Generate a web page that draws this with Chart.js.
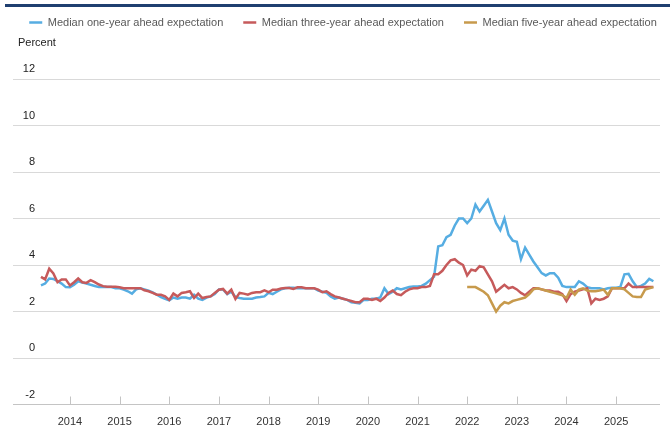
<!DOCTYPE html>
<html>
<head>
<meta charset="utf-8">
<script src="https://cdn.jsdelivr.net/npm/chart.js@4.4.1/dist/chart.umd.min.js"></script>
<style>
    html, body { margin: 0; padding: 0; background: #ffffff; }
    #chartWrap { width: 670px; height: 428px; position: relative; }
</style>
</head>
<body>
<div id="chartWrap"><canvas id="expectationsChart"></canvas></div>
<script>
// Survey medians, one value per month
const firstMonth = '2013-06';
const fiveYearFirstMonth = '2022-01';

const oneYear = [
    3.12, 3.2, 3.42, 3.4, 3.3, 3.2, 3.05,
    3.04, 3.15, 3.3, 3.25, 3.2, 3.15, 3.1, 3.05, 3.05, 3.05, 3.05, 3.0,
    3.0, 2.94, 2.87, 2.77, 2.95, 3.0, 2.95, 2.9, 2.82, 2.72, 2.62, 2.55,
    2.48, 2.6, 2.55, 2.6, 2.6, 2.55, 2.72, 2.55, 2.5, 2.6, 2.65, 2.75,
    2.95, 2.95, 2.75, 2.85, 2.62, 2.58, 2.55, 2.55, 2.55, 2.6, 2.62, 2.65,
    2.8, 2.75, 2.85, 2.95, 3.0, 3.02, 3.02, 3.0, 3.0, 3.0, 3.0, 3.0,
    2.9, 2.85, 2.8, 2.65, 2.55, 2.6, 2.55, 2.5, 2.4, 2.38, 2.35, 2.5,
    2.5, 2.55, 2.55, 2.6, 3.0, 2.75, 2.85, 3.0, 2.95, 3.0, 3.05, 3.08,
    3.08, 3.1, 3.2, 3.35, 3.5, 4.8, 4.85, 5.2, 5.3, 5.7, 6.0, 6.0,
    5.8, 6.0, 6.6, 6.3, 6.55, 6.8, 6.3, 5.8, 5.5, 6.0, 5.3, 5.05,
    5.0, 4.25, 4.75, 4.45, 4.15, 3.9, 3.65, 3.55, 3.65, 3.65, 3.45, 3.1,
    3.05, 3.05, 3.05, 3.3, 3.2, 3.05, 3.0, 3.0, 3.0, 2.95, 3.0, 3.02,
    3.02, 3.05, 3.6, 3.62, 3.3, 3.05, 3.1, 3.2, 3.4, 3.3
];

const threeYear = [
    3.49, 3.38, 3.84, 3.64, 3.26, 3.38, 3.38,
    3.12, 3.26, 3.42, 3.26, 3.23, 3.35, 3.26, 3.16, 3.09, 3.06, 3.06, 3.06,
    3.04, 3.0, 3.0, 3.0, 3.0, 3.0, 2.91, 2.87, 2.8, 2.72, 2.72, 2.65,
    2.5, 2.77, 2.65, 2.8, 2.83, 2.87, 2.58, 2.77, 2.58, 2.62, 2.65, 2.8,
    2.94, 2.97, 2.77, 2.94, 2.54, 2.8, 2.77, 2.72, 2.8, 2.83, 2.83, 2.91,
    2.83, 2.94, 2.94, 2.99, 3.01, 3.01, 2.97, 3.04, 3.04, 3.0, 3.0, 3.0,
    2.94, 2.83, 2.87, 2.75, 2.65, 2.6, 2.55, 2.5, 2.45, 2.4, 2.4, 2.55,
    2.55, 2.5, 2.55, 2.45, 2.6, 2.8, 2.9, 2.75, 2.7, 2.85, 2.95, 3.0,
    3.0, 3.05, 3.05, 3.1, 3.6, 3.6, 3.75, 4.0, 4.2, 4.25, 4.1, 4.0,
    3.55, 3.8, 3.75, 3.95, 3.9, 3.6, 3.3, 2.85, 3.0, 3.15, 3.0, 3.05,
    2.95, 2.8, 2.7, 2.85, 3.0, 3.0, 2.95, 2.9, 2.9, 2.85, 2.85, 2.75,
    2.45, 2.75, 2.85, 2.9, 2.95, 3.0, 2.35, 2.55, 2.5, 2.55, 2.65, 3.0,
    3.0, 3.0, 3.0, 3.2, 3.05, 3.05, 3.05, 3.05, 3.05, 3.05
];

const fiveYear = [
    3.05, 3.05, 3.05, 2.95, 2.85, 2.7, 2.35, 2.0, 2.25, 2.4, 2.35, 2.45,
    2.5, 2.55, 2.6, 2.75, 2.95, 3.0, 2.95, 2.9, 2.85, 2.8, 2.75, 2.7,
    2.58, 2.94, 2.72, 2.94, 3.0, 2.9, 2.87, 2.87, 2.9, 2.94, 2.72, 3.0,
    3.0, 3.0, 2.95, 2.8, 2.65, 2.62, 2.62, 2.94, 3.0, 3.05
];

const yearLabels = ['2014', '2015', '2016', '2017', '2018', '2019', '2020', '2021', '2022', '2023', '2024', '2025'];
const yTickValues = [-2, 0, 2, 4, 6, 8, 10, 12];

const seriesNames = [
    'Median one-year ahead expectation',
    'Median three-year ahead expectation',
    'Median five-year ahead expectation'
];
const seriesColors = ['#56ade2', '#c65a5b', '#c79a4c'];

const FONT = "'Liberation Sans', Arial, sans-serif";

// month label 'YYYY-MM' -> months after the first survey month
function monthOffset(label) {
    const [y, m] = label.split('-').map(Number);
    const [y0, m0] = firstMonth.split('-').map(Number);
    return (y - y0) * 12 + (m - m0);
}

function toPoints(values, startLabel) {
    const start = monthOffset(startLabel);
    return values.map((v, i) => ({ x: start + i, y: v }));
}

const yearTickValues = yearLabels.map(y => monthOffset(y + '-01'));

// small tick marks sitting on the bottom line, one per January
const januaryMarks = {
    id: 'januaryMarks',
    afterDatasetsDraw(chart) {
        const xs = chart.scales.x;
        const bottom = chart.chartArea.bottom;
        const ctx = chart.ctx;
        ctx.save();
        ctx.strokeStyle = '#c4c4c4';
        ctx.lineWidth = 1;
        ctx.beginPath();
        xs.ticks.forEach(t => {
            const px = Math.round(xs.getPixelForValue(t.value)) + 0.5;
            ctx.moveTo(px, bottom - 8);
            ctx.lineTo(px, bottom);
        });
        ctx.stroke();
        ctx.restore();
    }
};

// navy rule along the top edge and the unit label
const headerBits = {
    id: 'headerBits',
    afterDraw(chart) {
        const ctx = chart.ctx;
        ctx.save();
        ctx.fillStyle = '#1f3f70';
        ctx.fillRect(5, 4, chart.width - 5, 3);
        ctx.fillStyle = '#222222';
        ctx.font = "11px " + FONT;
        ctx.textBaseline = 'middle';
        ctx.textAlign = 'left';
        ctx.fillText('Percent', 18, 43);
        ctx.restore();
    }
};

// move the legend row up and a little to the right
const legendPlacement = {
    id: 'legendPlacement',
    afterLayout(chart) {
        const lg = chart.legend;
        if (!lg) return;
        const dy = -3 - lg.top;
        const dx = 8;
        lg.top += dy; lg.bottom += dy;
        lg.left += dx; lg.right += dx;
    }
};

const ctx = document.getElementById('expectationsChart');

new Chart(ctx, {
    type: 'line',
    data: {
        datasets: [
            {
                label: seriesNames[0],
                data: toPoints(oneYear, firstMonth),
                borderColor: seriesColors[0],
                backgroundColor: seriesColors[0],
                borderWidth: 2.5,
                pointRadius: 0,
                order: 3
            },
            {
                label: seriesNames[1],
                data: toPoints(threeYear, firstMonth),
                borderColor: seriesColors[1],
                backgroundColor: seriesColors[1],
                borderWidth: 2.5,
                pointRadius: 0,
                order: 2
            },
            {
                label: seriesNames[2],
                data: toPoints(fiveYear, fiveYearFirstMonth),
                borderColor: seriesColors[2],
                backgroundColor: seriesColors[2],
                borderWidth: 2.5,
                pointRadius: 0,
                order: 1
            }
        ]
    },
    options: {
        responsive: true,
        maintainAspectRatio: false,
        animation: false,
        layout: {
            padding: { top: 38, left: 0, right: 0, bottom: 0 }
        },
        plugins: {
            legend: {
                position: 'top',
                align: 'center',
                labels: {
                    usePointStyle: true,
                    pointStyle: 'line',
                    pointStyleWidth: 13,
                    padding: 20,
                    color: '#595959',
                    font: { family: FONT, size: 11 },
                    sort: (a, b) => a.datasetIndex - b.datasetIndex
                }
            },
            title: { display: false },
            tooltip: { enabled: false }
        },
        scales: {
            x: {
                type: 'linear',
                min: -1.2,
                max: 149.6,
                afterBuildTicks: scale => {
                    scale.ticks = yearTickValues.map(v => ({ value: v }));
                },
                afterFit: scale => { scale.height = 23.5; },
                grid: { display: false, drawTicks: false },
                border: { display: false },
                ticks: {
                    autoSkip: false,
                    maxRotation: 0,
                    padding: 10.5,
                    color: '#333333',
                    font: { family: FONT, size: 11 },
                    callback: value => yearLabels[yearTickValues.indexOf(value)]
                }
            },
            y: {
                min: -2,
                max: 12,
                afterBuildTicks: scale => {
                    scale.ticks = yTickValues.map(v => ({ value: v }));
                },
                afterFit: scale => { scale.width = 36; },
                grid: {
                    color: ctx => ctx.tick && ctx.tick.value === -2 ? '#c4c4c4' : '#d9d9d9',
                    lineWidth: 1,
                    tickLength: 23
                },
                border: { display: false },
                ticks: {
                    padding: -22,
                    labelOffset: -10,
                    color: '#222222',
                    font: { family: FONT, size: 11 }
                }
            },
            yEdge: {
                position: 'right',
                display: true,
                afterFit: scale => { scale.width = 10; },
                grid: { display: false, drawTicks: false },
                border: { display: false },
                ticks: { display: false }
            }
        }
    },
    plugins: [januaryMarks, headerBits, legendPlacement]
});
</script>
</body>
</html>
